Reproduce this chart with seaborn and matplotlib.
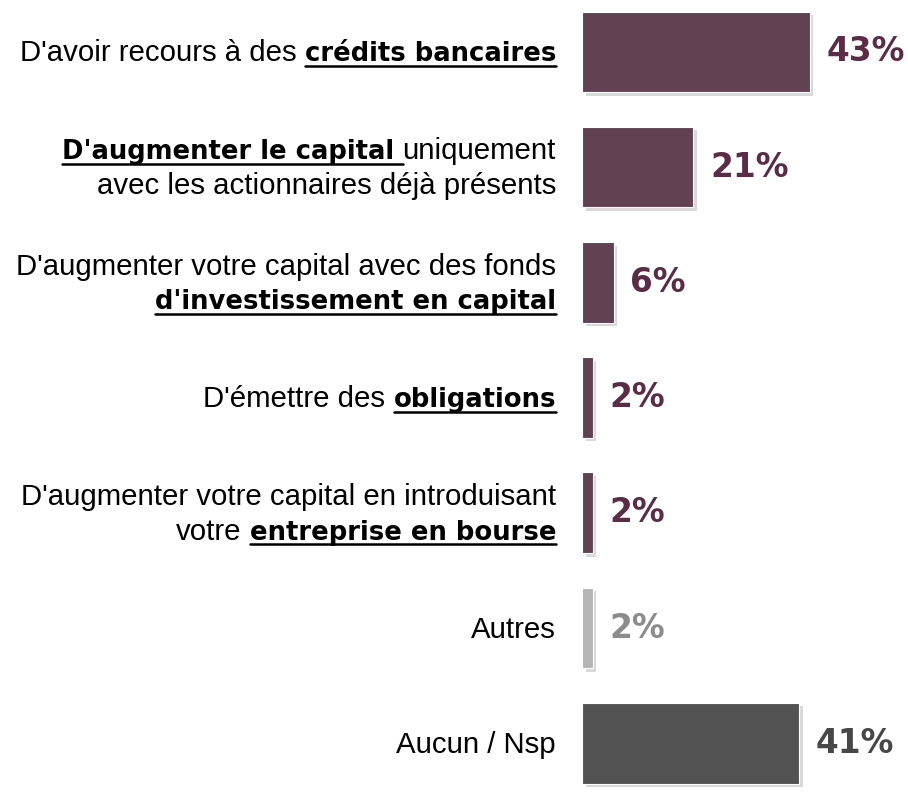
import matplotlib
matplotlib.use('Agg')
import matplotlib.pyplot as plt
import matplotlib.patheffects as pe
from matplotlib.transforms import IdentityTransform
from matplotlib.lines import Line2D
import seaborn as sns
import pandas as pd

# donnees
categories = ["Crédits bancaires", "Capital actionnaires", "Fonds d'investissement",
              "Obligations", "Bourse", "Autres", "Aucun / Nsp"]
values = [43, 21, 6, 2, 2, 2, 41]
bar_colors = ["#673C54", "#673C54", "#673C54", "#673C54", "#673C54", "#B5B5B5", "#525252"]
text_colors = ["#5A2C46", "#5A2C46", "#5A2C46", "#5A2C46", "#5A2C46", "#8C8C8C", "#474747"]

# libelles : lignes -> morceaux (texte, gras souligne)
label_parts = [
    [[("D'avoir recours à des ", False), ("crédits bancaires", True)]],
    [[("D'augmenter le capital ", True), ("uniquement", False)],
     [("avec les actionnaires déjà présents", False)]],
    [[("D'augmenter votre capital avec des fonds", False)],
     [("d'investissement en capital", True)]],
    [[("D'émettre des ", False), ("obligations", True)]],
    [[("D'augmenter votre capital en introduisant", False)],
     [("votre ", False), ("entreprise en bourse", True)]],
    [[("Autres", False)]],
    [[("Aucun / Nsp", False)]],
]

df = pd.DataFrame({"cat": categories, "val": values})

sns.set_style("white")
fig = plt.figure(figsize=(9.08, 7.93), dpi=100)
ax = fig.add_axes([0.641, 0.0, 0.35, 1.0])

sns.barplot(data=df, x="val", y="cat", hue="cat", palette=bar_colors,
            legend=False, orient="h", width=0.70, ax=ax)

for patch in ax.patches:
    patch.set_edgecolor("white")
    patch.set_linewidth(0.8)
    patch.set_path_effects([pe.SimplePatchShadow(offset=(2.5, -2.5), shadow_rgbFace="black", alpha=0.15),
                            pe.Normal()])

ax.set_xlim(0, 60)
ax.set_ylim(6.432, -0.451)
ax.axis("off")

# valeurs
for i, (v, c) in enumerate(zip(values, text_colors)):
    ax.annotate(f"{v}%", xy=(v, i), xytext=(12, 0), textcoords="offset points",
                ha="left", va="center", fontsize=23.6, fontweight="bold",
                color=c, family="DejaVu Sans")

# libelles a gauche avec soulignement
fig.canvas.draw()
renderer = fig.canvas.get_renderer()
font_normal = dict(family="Liberation Sans", fontsize=21.2, color="black")
font_bold = dict(family="DejaVu Sans", fontsize=18.6, fontweight="bold", color="black")

def text_width(s, props):
    t = fig.text(0, 0, s, transform=IdentityTransform(), **props)
    w = t.get_window_extent(renderer).width
    t.remove()
    return w

space_n = text_width("a a", font_normal) - text_width("aa", font_normal)
space_b = text_width("a a", font_bold) - text_width("aa", font_bold)

x_right = 556
line_gap = 34.5
for i, lines in enumerate(label_parts):
    y_center = ax.transData.transform((0, i))[1]
    n = len(lines)
    for k, line in enumerate(lines):
        y_mid = y_center + (n - 1) / 2 * line_gap - k * line_gap
        y_base = y_mid - 9.5
        x = x_right
        for seg, bold in reversed(line):
            props = font_bold if bold else font_normal
            sw = space_b if bold else space_n
            stripped = seg.strip()
            trail = len(seg) - len(seg.rstrip())
            lead = len(seg) - len(seg.lstrip())
            x_end = x
            x -= trail * sw
            t = fig.text(x, y_base, stripped, transform=IdentityTransform(),
                         ha="right", va="baseline", **props)
            w = t.get_window_extent(renderer).width
            x -= w
            if bold:
                fig.add_artist(Line2D([x, x_end], [y_base - 4.5, y_base - 4.5],
                                      transform=IdentityTransform(),
                                      color="black", linewidth=1.8))
            x -= lead * sw

fig.savefig("out.png", dpi=100)
